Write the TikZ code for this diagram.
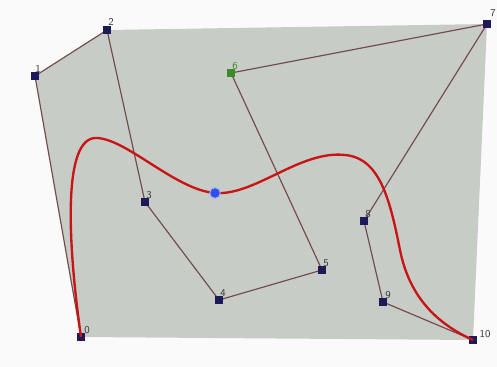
\documentclass[tikz,border=0pt]{standalone}
\usetikzlibrary{calc}
\definecolor{hullgray}{RGB}{199,204,199}
\definecolor{bgwhite}{RGB}{250,250,250}
\definecolor{ptnavy}{RGB}{28,26,88}
\definecolor{ptgreen}{RGB}{60,140,40}
\definecolor{polyline}{RGB}{115,75,75}
\definecolor{curvered}{RGB}{200,20,20}
\definecolor{labelgray}{RGB}{60,60,60}
\definecolor{selblue}{RGB}{50,80,230}
\definecolor{selring}{RGB}{150,170,255}
\tikzset{
  ctrlpt/.style={rectangle, fill=ptnavy, minimum size=6.5pt, inner sep=0pt},
  ctrlgreen/.style={rectangle, fill=ptgreen, minimum size=6.5pt, inner sep=0pt},
  ptlabel/.style={font=\sffamily\small, text=labelgray, inner sep=0pt},
  polyedge/.style={draw=polyline, line width=1pt},
  splinecurve/.style={draw=curvered, line width=2pt},
}
\begin{document}
\begin{tikzpicture}[x=0.03cm,y=-0.03cm]
\useasboundingbox (0,0) rectangle (497,367);
\fill[bgwhite] (0,0) rectangle (497,367);
% convex hull
\coordinate (h0) at (81,337);
\coordinate (h1) at (35,76);
\coordinate (h2) at (107,30);
\coordinate (h7) at (487,24);
\coordinate (h10) at (473,340);
\fill[hullgray] (h0) -- (h1) -- (h2) -- (h7) -- (h10) -- cycle;
% control points
\node[ctrlpt] (p0) at (81,337) {};
\node[ctrlpt] (p1) at (35,76) {};
\node[ctrlpt] (p2) at (107,30) {};
\node[ctrlpt] (p3) at (145,202) {};
\node[ctrlpt] (p4) at (219,300) {};
\node[ctrlpt] (p5) at (322,270) {};
\node[ctrlgreen] (p6) at (231,73) {};
\node[ctrlpt] (p7) at (487,24) {};
\node[ctrlpt] (p8) at (364,221) {};
\node[ctrlpt] (p9) at (383,302) {};
\node[ctrlpt] (p10) at (473,340) {};
% control polygon
\draw[polyedge] (p0.center) -- (p1.center) -- (p2.center) -- (p3.center) -- (p4.center) -- (p5.center) -- (p6.center) -- (p7.center) -- (p8.center) -- (p9.center) -- (p10.center);
% redraw markers on top
\foreach \n/\s in {p0/ctrlpt,p1/ctrlpt,p2/ctrlpt,p3/ctrlpt,p4/ctrlpt,p5/ctrlpt,p7/ctrlpt,p8/ctrlpt,p9/ctrlpt,p10/ctrlpt,p6/ctrlgreen}
  \node[\s] at (\n) {};
% curve
\coordinate (c1) at (95,138);
\coordinate (c2) at (215,193);
\coordinate (c3) at (345,155);
\coordinate (c4) at (400,250);
\draw[splinecurve] (p0.center) .. controls (70,260) and (60,140) .. (c1)
  .. controls (125,137) and (175,190) .. (c2)
  .. controls (255,196) and (300,150) .. (c3)
  .. controls (380,158) and (390,200) .. (c4)
  .. controls (410,300) and (440,325) .. (p10.center);
% selected point
\node[circle, fill=selblue, draw=selring, line width=0.8pt, minimum size=9pt, inner sep=0pt] (sel) at (c2) {};
% labels
\node[ptlabel] (l0) at (87,330) {0};
\node[ptlabel] (l1) at (38,69) {1};
\node[ptlabel] (l2) at (111,22) {2};
\node[ptlabel] (l3) at (149,195) {3};
\node[ptlabel] (l4) at (223,293) {4};
\node[ptlabel] (l5) at (326,263) {5};
\node[ptlabel, text=ptgreen] (l6) at (235,66) {6};
\node[ptlabel] (l7) at (493,13) {7};
\node[ptlabel] (l8) at (368,214) {8};
\node[ptlabel] (l9) at (388,295) {9};
\node[ptlabel] (l10) at (485,334) {10};
\end{tikzpicture}
\end{document}
